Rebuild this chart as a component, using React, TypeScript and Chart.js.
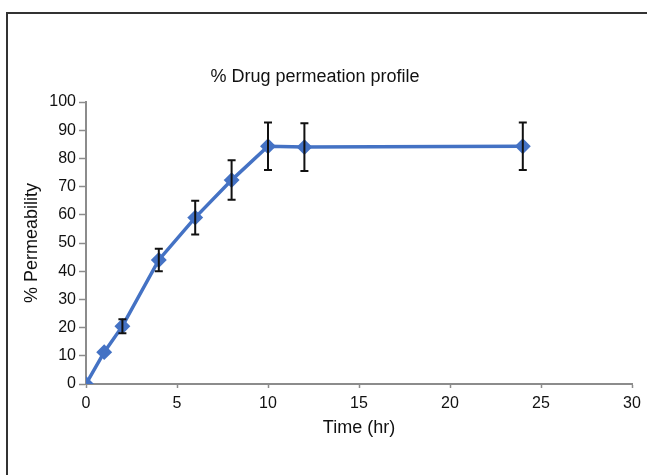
import React, { useEffect, useRef } from "react";
import { Chart, registerables } from "chart.js";

Chart.register(...registerables);

const timeHr = [0, 1, 2, 4, 6, 8, 10, 12, 24];
const permeability = [0, 11.3, 20.5, 44, 59, 72.3, 84.3, 84, 84.3];
const errorSD = [0, 0, 2.5, 4, 6, 7, 8.4, 8.5, 8.4];
const xTicks = [0, 5, 10, 15, 20, 25, 30];
const yTicks = [0, 10, 20, 30, 40, 50, 60, 70, 80, 90, 100];

const chartTitle = "% Drug permeation profile";
const xTitle = "Time (hr)";
const yTitle = "% Permeability";

const FONT = "'Liberation Sans', Arial, sans-serif";

const errorBarPlugin = {
  id: "errorBars",
  afterDatasetsDraw(chart: any) {
    const { ctx, scales } = chart;
    const xs = scales.x;
    const ys = scales.y;
    ctx.save();
    ctx.strokeStyle = "#111";
    ctx.lineWidth = 2;
    for (let i = 0; i < timeHr.length; i++) {
      const e = errorSD[i];
      if (!e) continue;
      const x = xs.getPixelForValue(timeHr[i]);
      const yt = ys.getPixelForValue(permeability[i] + e);
      const yb = ys.getPixelForValue(permeability[i] - e);
      ctx.beginPath();
      ctx.moveTo(x, yt);
      ctx.lineTo(x, yb);
      ctx.moveTo(x - 4, yt);
      ctx.lineTo(x + 4, yt);
      ctx.moveTo(x - 4, yb);
      ctx.lineTo(x + 4, yb);
      ctx.stroke();
    }
    ctx.restore();
  },
};

const titlePlugin = {
  id: "customTitle",
  afterDraw(chart: any) {
    const { ctx } = chart;
    ctx.save();
    ctx.fillStyle = "#111";
    ctx.font = `18px ${FONT}`;
    ctx.textAlign = "center";
    ctx.textBaseline = "middle";
    ctx.fillText(chartTitle, 315, 77);
    ctx.restore();
  },
};

export default function App() {
  const ref = useRef<HTMLCanvasElement | null>(null);
  useEffect(() => {
    if (!ref.current) return;
    const chart = new Chart(ref.current, {
      type: "line",
      data: {
        datasets: [
          {
            data: timeHr.map((t, i) => ({ x: t, y: permeability[i] })),
            borderColor: "rgb(68,114,196)",
            backgroundColor: "rgb(68,114,196)",
            borderWidth: 3.5,
            pointStyle: "rectRot",
            pointRadius: 5.5,
            pointHoverRadius: 5.5,
            tension: 0,
          },
        ],
      },
      options: {
        animation: false,
        responsive: false,
        maintainAspectRatio: false,
        layout: { padding: { left: 0, right: 15, top: 102, bottom: 0 } },
        plugins: { legend: { display: false }, tooltip: { enabled: false } },
        scales: {
          x: {
            type: "linear",
            min: 0,
            max: 30,
            afterFit: (s: any) => {
              s.height = 91;
            },
            afterBuildTicks: (s: any) => {
              s.ticks = xTicks.map((v) => ({ value: v }));
            },
            grid: { drawOnChartArea: false, tickLength: 4, tickColor: "#8c8c8c", tickWidth: 1.5 },
            border: { color: "#8c8c8c", width: 2 },
            ticks: { color: "#111", font: { family: FONT, size: 16 }, padding: 6, maxRotation: 0 },
            title: {
              display: true,
              text: xTitle,
              color: "#111",
              font: { family: FONT, size: 18 },
              padding: { top: 0, bottom: 36.2 },
            },
          },
          y: {
            type: "linear",
            min: 0,
            max: 100,
            afterFit: (s: any) => {
              s.width = 86;
            },
            afterBuildTicks: (s: any) => {
              s.ticks = yTicks.map((v) => ({ value: v }));
            },
            grid: { drawOnChartArea: false, tickLength: 7, tickColor: "#8c8c8c", tickWidth: 1.5 },
            border: { color: "#8c8c8c", width: 2 },
            ticks: { color: "#111", font: { family: FONT, size: 16 }, padding: 3 },
            title: {
              display: true,
              text: yTitle,
              color: "#111",
              font: { family: FONT, size: 18 },
              padding: { top: 21.2, bottom: 0 },
            },
          },
        },
      },
      plugins: [errorBarPlugin, titlePlugin],
    });
    return () => chart.destroy();
  }, []);

  return (
    <div
      style={{
        position: "fixed",
        left: 0,
        top: 0,
        width: 647,
        height: 475,
        overflow: "hidden",
        background: "#fff",
      }}
    >
      <div
        style={{
          position: "absolute",
          left: 6,
          top: 12,
          width: 700,
          height: 600,
          borderLeft: "2px solid #333",
          borderTop: "2px solid #333",
        }}
      />
      <canvas ref={ref} width={647} height={475} style={{ position: "absolute", left: 0, top: 0 }} />
    </div>
  );
}
